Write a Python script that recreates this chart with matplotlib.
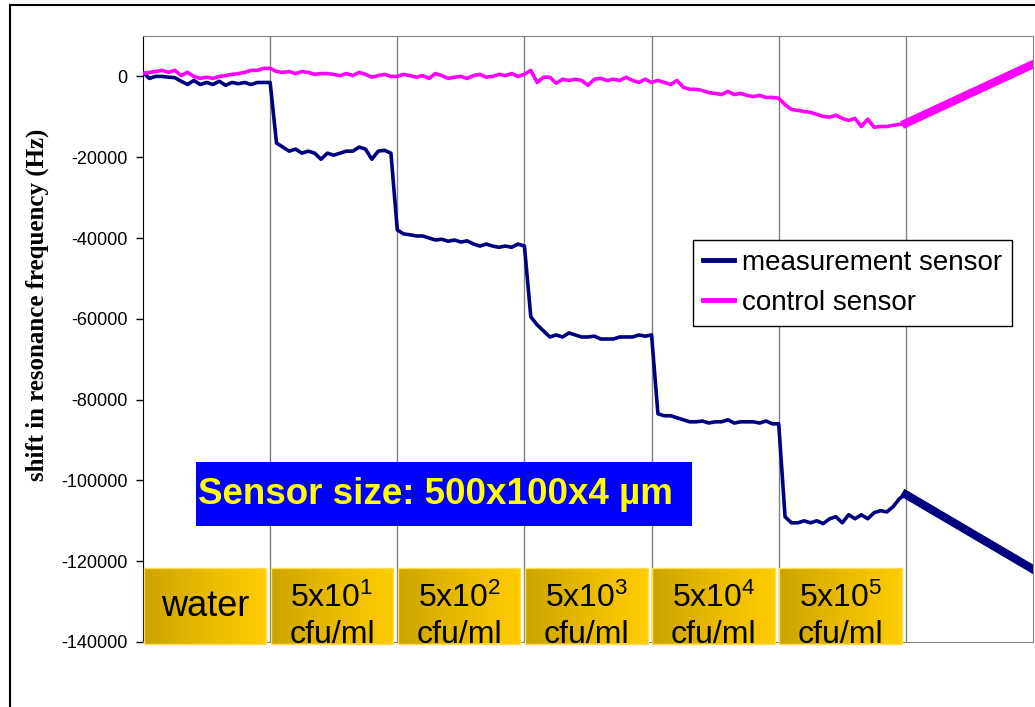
import numpy as np
import matplotlib
matplotlib.use("Agg")
from matplotlib import pyplot as plt
from matplotlib import patches as mpatches
from matplotlib.colors import LinearSegmentedColormap
from matplotlib.transforms import Bbox, TransformedBbox

plt.rcParams['font.family'] = ['Liberation Sans', 'DejaVu Sans']
plt.rcParams['mathtext.fontset'] = 'custom'
plt.rcParams['mathtext.rm'] = 'Liberation Sans'
plt.rcParams['mathtext.it'] = 'Liberation Sans:italic'
plt.rcParams['mathtext.bf'] = 'Liberation Sans:bold'

# one unit on x = one incubation phase, sampled every 0.05
step = 0.05

meas = [
    1000, -500, 0, 0, -200, -300, -1200, -2000, -1000, -2000,
    -1500, -2000, -1200, -2200, -1500, -1800, -1500, -2000, -1500, -1500,
    -1500, -16500, -17500, -18500, -18000, -19000, -18500, -19000, -20500, -19000,
    -19500, -19000, -18500, -18500, -17500, -18000, -20500, -18500, -18300, -19000,
    -38000, -39000, -39200, -39500, -39500, -40000, -40500, -40300, -40800, -40500,
    -41000, -40700, -41500, -42000, -41500, -42000, -42300, -42000, -42300, -41500,
    -42000, -59500, -61500, -63000, -64500, -64000, -64500, -63500, -64000, -64500,
    -64500, -64300, -65000, -65000, -65000, -64500, -64500, -64500, -64000, -64300,
    -64000, -83500, -84000, -84000, -84500, -85000, -85500, -85500, -85300, -85800,
    -85500, -85500, -85000, -85800, -85500, -85500, -85500, -85800, -85300, -86000,
    -86000, -109000, -110500, -110500, -110000, -110500, -110000, -110700, -109500, -109000,
    -110500, -108500, -109500, -108500, -109500, -108000, -107500, -107800, -106500, -104500,
    -103500,
]

# shift of the control sensor (Hz)
ctrl = [
    700, 1000, 1200, 1500, 1000, 1500, 200, 1000, 0, -500,
    -200, -500, 0, 200, 500, 700, 1000, 1500, 1500, 2000,
    2000, 1200, 1000, 1200, 700, 1200, 1000, 500, 700, 700,
    500, 200, 700, 200, 1000, 500, -200, 200, 500, 0,
    0, 500, 200, -200, 200, -500, 700, 200, -500, -200,
    0, -500, 200, 500, -200, 0, 500, 200, 700, 0,
    500, 1500, -1500, -200, -200, -1700, -700, -1000, -700, -1000,
    -2200, -700, -500, -1000, -700, -1000, -200, -1000, -1500, -700,
    -1500, -1000, -1500, -2000, -1000, -2700, -3200, -3200, -3500, -4000,
    -4200, -4500, -3700, -4500, -4200, -4700, -5000, -4700, -5200, -5200,
    -5400, -7000, -8200, -8400, -8700, -8900, -9400, -9900, -10100, -9600,
    -10400, -10900, -10400, -12400, -10600, -12600, -12400, -12400, -12100, -11900,
    -11600,
]

# the thick straight segments after the last phase
tail_t = [6.0, 7.0]
meas_tail = [-103500, -122000]
ctrl_tail = [-11600, 3000]

phase_top = ['water', '5x10$^{1}$', '5x10$^{2}$', '5x10$^{3}$', '5x10$^{4}$', '5x10$^{5}$']
phase_bottom = ['', 'cfu/ml', 'cfu/ml', 'cfu/ml', 'cfu/ml', 'cfu/ml']

yticks = [0, -20000, -40000, -60000, -80000, -100000, -120000, -140000]

t = np.arange(len(meas)) * step

fig = plt.figure(figsize=(10.35, 7.07), dpi=100)
ax = fig.add_axes([143 / 1035, 65 / 707, 890 / 1035, 606 / 707])

ax.plot(t, meas, color='#000080', lw=2.6, label='measurement sensor', zorder=3)
ax.plot(t, ctrl, color='#FF00FF', lw=2.6, label='control sensor', zorder=3)
ax.plot(tail_t, meas_tail, color='#000080', lw=6, zorder=3)
ax.plot(tail_t, ctrl_tail, color='#FF00FF', lw=6, zorder=3)

# phase label boxes with a gold gradient
gold = LinearSegmentedColormap.from_list('gold', ['#CDA400', '#E8BA00', '#FFCC00'])
grad = np.linspace(0, 1, 64).reshape(1, -1)
box_top, box_bot = -121700, -140500
for i in range(len(phase_top)):
    x0, x1 = i + 0.005, i + 0.968
    ax.imshow(grad, extent=[x0, x1, box_bot, box_top], cmap=gold,
              aspect='auto', zorder=4, clip_on=False)
    ax.add_patch(mpatches.Rectangle((x0, box_bot), x1 - x0, box_top - box_bot,
                                    fill=False, ec='#FFDD55', lw=1, zorder=4, clip_on=False))
    clip = TransformedBbox(Bbox([[x0, box_bot], [x1, box_top]]), ax.transData)
    xc = (x0 + x1) / 2
    if phase_bottom[i]:
        a = ax.text(xc, -129200, phase_top[i], fontsize=23, ha='center', va='center', zorder=5)
        b = ax.text(xc, -138200, phase_bottom[i], fontsize=23, ha='center', va='center', zorder=5)
        for txt in (a, b):
            txt.set_clip_box(clip)
            txt.set_clip_on(True)
    else:
        ax.text(xc, -131200, phase_top[i], fontsize=26, ha='center', va='center', zorder=5)

# sensor size banner
ax.add_patch(mpatches.Rectangle((0.0596, 0.191), 0.5573, 0.106, transform=ax.transAxes,
                                fc='#0000FF', ec='none', zorder=4))
ax.text(0.0618, 0.244, 'Sensor size: 500x100x4 µm', transform=ax.transAxes,
        color='#FFFF00', fontsize=26.5, fontweight='bold', ha='left', va='center', zorder=5)

ax.set_xlim(0, 7)
ax.set_ylim(-140000, 10000)
ax.set_xticks(range(1, 7))
ax.tick_params(axis='x', length=0, labelbottom=False)
ax.grid(axis='x', color='#808080', lw=1, zorder=0)
ax.set_yticks(yticks)
ax.set_yticklabels([str(v) for v in yticks])
ax.tick_params(axis='y', direction='out', length=5, width=1, color='black',
               labelsize=13, pad=6)
for side in ['top', 'right', 'bottom']:
    ax.spines[side].set_color('#808080')
ax.spines['left'].set_color('black')

leg = ax.legend(loc='upper left', bbox_to_anchor=(0.618, 0.663), borderaxespad=0,
                fontsize=20, fancybox=False, edgecolor='black', framealpha=1,
                handlelength=1.1, handletextpad=0.3, borderpad=0.36, labelspacing=0.5)
leg.get_frame().set_linewidth(1.0)
leg.set_zorder(6)
for line in leg.get_lines():
    line.set_linewidth(3.5)

fig.text(37 / 1035, 1 - 305 / 707, 'shift in resonance frequency (Hz)', rotation=90,
         family='Liberation Serif', fontweight='bold', fontsize=18,
         ha='center', va='center')

# outer chart frame, running off the right and bottom edges
fig.add_artist(mpatches.Rectangle((10 / 1035, -0.1), 1.2, 1.1 - 5 / 707,
                                  transform=fig.transFigure, fill=False,
                                  ec='black', lw=1.5))

fig.savefig('out.png', dpi=100)
